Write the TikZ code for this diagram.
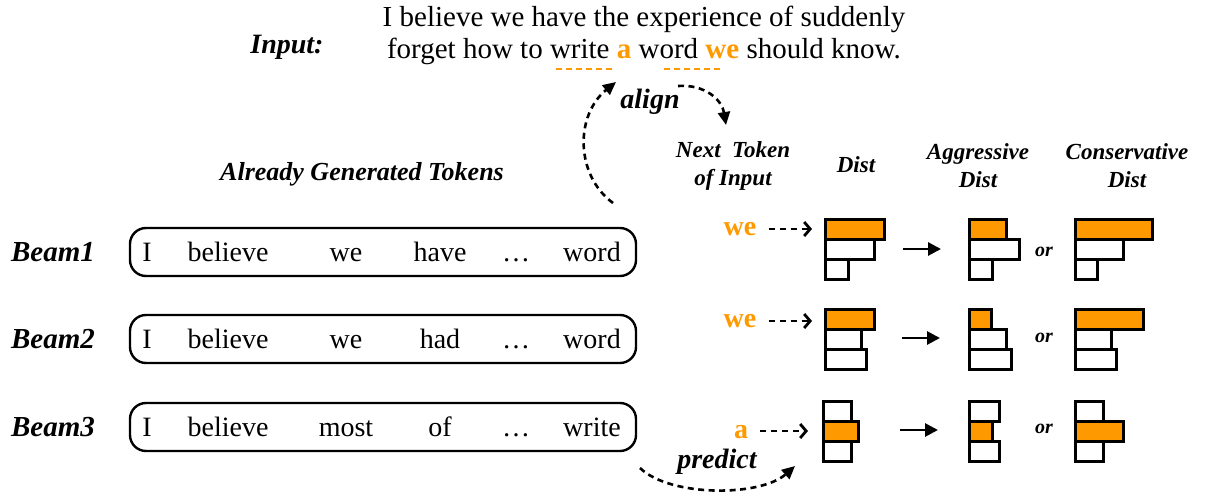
\documentclass[tikz,border=0pt]{standalone}
\usepackage{fontspec}
\setmainfont{Liberation Serif}
\usetikzlibrary{arrows.meta,calc}
\definecolor{org}{HTML}{FF9900}
\newcommand{\fsz}[1]{\fontsize{#1}{#1}\selectfont}
\begin{document}
\begin{tikzpicture}[x=1pt,y=-1pt,
  bi/.style={font=\bfseries\itshape\fsz{#1}, inner sep=0pt},
  txt/.style={font=\fsz{#1}, inner sep=0pt, anchor=base},
  hdr/.style={font=\bfseries\itshape\fontsize{23}{28}\selectfont, inner sep=0pt, align=center},
  tok/.style={font=\bfseries\fsz{28}, text=org, inner sep=0pt, anchor=base},
  beambox/.style={draw, line width=2.4pt, rounded corners=16pt, minimum width=506pt, minimum height=48pt, inner sep=0pt},
  bar/.style={draw, line width=3pt, fill=white},
  obar/.style={bar, fill=org},
  udash/.style={draw=org, line width=2.4pt, dash pattern=on 6pt off 4pt},
  darrow/.style={line width=2.6pt, dash pattern=on 6pt off 4.5pt, -{Triangle[length=13pt,width=12pt]}},
  tarrow/.style={line width=2.8pt, dash pattern=on 6pt off 5pt, -{Straight Barb[length=6pt,width=14pt]}},
  sarrow/.style={line width=2.8pt, -{Triangle[length=13pt,width=13pt]}}
]
\useasboundingbox (0,0) rectangle (1206,495);

% ---- input
\node[bi=28, anchor=base] (inlab) at (287,54) {Input:};
\node[txt=29] (l1) at (644,27) {I believe we have the experience of suddenly};
\node[txt=29] (l2) at (644,59) {forget how to write \textcolor{org}{\textbf{a}} word \textcolor{org}{\textbf{we}} should know.};
\draw[udash] (556,69) -- (615,69);
\draw[udash] (664,69) -- (723,69);

% ---- align arrows
\coordinate (alS) at (613,203);
\coordinate (alE) at (616,82);
\draw[darrow] (alS) .. controls (575,175) and (575,115) .. (alE);
\node[bi=28] (align) at (650,102) {align};
\coordinate (al2S) at (678,86);
\coordinate (al2E) at (726,125);
\draw[darrow] (al2S) .. controls (705,84) and (722,100) .. (al2E);

% ---- headers
\node[bi=26, anchor=base] (agt) at (362,180) {Already Generated Tokens};
\node[hdr] (hn) at (733,166) {Next\enspace Token\\of Input};
\node[hdr] (hd) at (856,165) {Dist};
\node[hdr] (ha) at (978,166) {Aggressive\\Dist};
\node[hdr] (hc) at (1127,166) {Conservative\\Dist};

% ---- beams
\node[bi=29, anchor=base] (bl1) at (53,261) {Beam1};
\node[bi=29, anchor=base] (bl2) at (53,348) {Beam2};
\node[bi=29, anchor=base] (bl3) at (53,436) {Beam3};

\node[beambox] (b1) at (383,252) {};
\node[beambox] (b2) at (383,339) {};
\node[beambox] (b3) at (383,427) {};

\node[txt=28] (b1w1) at (147,261) {I};
\node[txt=28] (b1w2) at (228,261) {believe};
\node[txt=28] (b1w3) at (346,261) {we};
\node[txt=28] (b1w4) at (440,261) {have};
\node[txt=28] (b1w5) at (516,261) {\dots};
\node[txt=28] (b1w6) at (592,261) {word};

\node[txt=28] (b2w1) at (147,348) {I};
\node[txt=28] (b2w2) at (228,348) {believe};
\node[txt=28] (b2w3) at (346,348) {we};
\node[txt=28] (b2w4) at (440,348) {had};
\node[txt=28] (b2w5) at (516,348) {\dots};
\node[txt=28] (b2w6) at (592,348) {word};

\node[txt=28] (b3w1) at (147,436) {I};
\node[txt=28] (b3w2) at (228,436) {believe};
\node[txt=28] (b3w3) at (346,436) {most};
\node[txt=28] (b3w4) at (440,436) {of};
\node[txt=28] (b3w5) at (516,436) {\dots};
\node[txt=28] (b3w6) at (592,436) {write};

% ---- predict arrow
\coordinate (prS) at (640,468);
\coordinate (prE) at (795,466);
\draw[darrow] (prS) .. controls (670,497) and (760,497) .. (prE);
\node[bi=28] (pred) at (717,462) {predict};

% ---- row 1
\node[tok] (t1) at (740,235) {we};
\coordinate (d1) at (825,229);
\draw[tarrow, shorten <=12pt, shorten >=13pt] (t1.east |- d1) -- (d1);
\draw[bar] (825,239) rectangle (874,259);
\draw[bar] (825,259) rectangle (848,279);
\draw[obar] (825,219) rectangle (884,239);
\coordinate (s1a) at (903,249);
\coordinate (s1b) at (941,249);
\draw[sarrow] (s1a) -- (s1b);
\draw[bar] (969,239) rectangle (1019,259);
\draw[bar] (969,259) rectangle (992,279);
\draw[obar] (969,219) rectangle (1006,239);
\node[bi=20] (or1) at (1044,252) {or};
\draw[bar] (1075,239) rectangle (1123,259);
\draw[bar] (1075,259) rectangle (1097,279);
\draw[obar] (1075,219) rectangle (1152,239);

% ---- row 2
\node[tok] (t2) at (740,327) {we};
\coordinate (d2) at (825,321);
\draw[tarrow, shorten <=12pt, shorten >=13pt] (t2.east |- d2) -- (d2);
\draw[bar] (825,329) rectangle (861,349);
\draw[bar] (825,349) rectangle (866,369);
\draw[obar] (825,309) rectangle (874,329);
\coordinate (s2a) at (902,338);
\coordinate (s2b) at (940,338);
\draw[sarrow] (s2a) -- (s2b);
\draw[bar] (969,329) rectangle (1006,349);
\draw[bar] (969,349) rectangle (1011,369);
\draw[obar] (969,309) rectangle (991,329);
\node[bi=20] (or2) at (1044,338) {or};
\draw[bar] (1075,329) rectangle (1111,349);
\draw[bar] (1075,349) rectangle (1116,369);
\draw[obar] (1075,309) rectangle (1143,329);

% ---- row 3
\node[tok] (t3) at (741,438) {a};
\coordinate (d3) at (823,431);
\draw[tarrow, shorten <=12pt, shorten >=15pt] (t3.east |- d3) -- (d3);
\draw[bar] (823,401) rectangle (851,421);
\draw[bar] (823,441) rectangle (851,461);
\draw[obar] (823,421) rectangle (858,441);
\coordinate (s3a) at (900,430);
\coordinate (s3b) at (938,430);
\draw[sarrow] (s3a) -- (s3b);
\draw[bar] (969,401) rectangle (999,421);
\draw[bar] (969,441) rectangle (999,461);
\draw[obar] (969,421) rectangle (992,441);
\node[bi=20] (or3) at (1044,429) {or};
\draw[bar] (1075,401) rectangle (1103,421);
\draw[bar] (1075,441) rectangle (1103,461);
\draw[obar] (1075,421) rectangle (1123,441);
\end{tikzpicture}
\end{document}
